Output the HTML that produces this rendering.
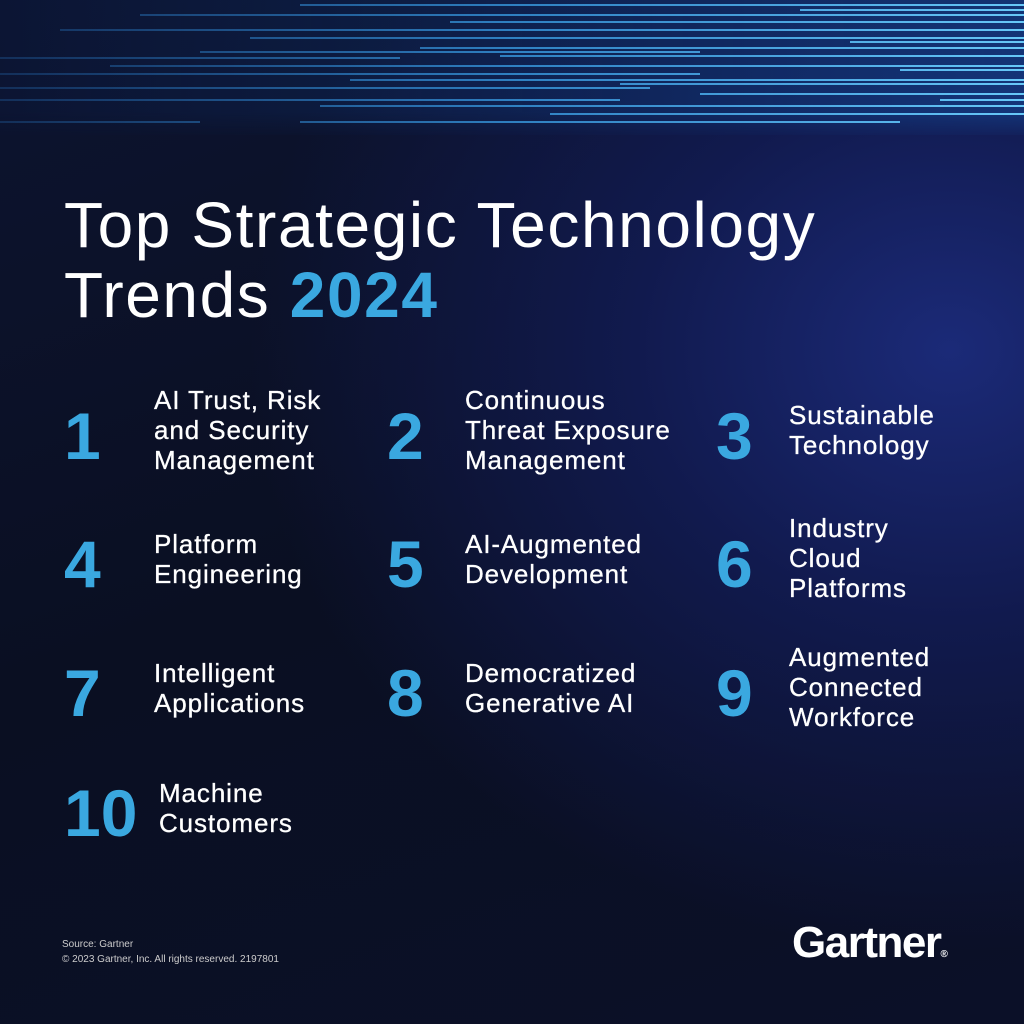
<!DOCTYPE html>
<html><head><meta charset="utf-8"><style>
*{margin:0;padding:0}
body{width:1024px;height:1024px;overflow:hidden;font-family:"Liberation Sans",sans-serif;color:#fff;
background:radial-gradient(ellipse 700px 600px at 950px 350px,#1b2a78 0%,#111a4e 45%,rgba(10,14,34,0) 100%),linear-gradient(160deg,#0d1430 0%,#0a0f22 50%,#0b1028 100%);position:relative}
.t{position:absolute;left:64px;top:190px;font-size:64px;line-height:70px;letter-spacing:1.6px}
.t b{color:#3aa8e0}
.n{position:absolute;font-weight:bold;font-size:66px;color:#3aa8e0;line-height:1}
.i{position:absolute;font-size:26px;line-height:30px;letter-spacing:0.9px;-webkit-text-stroke:0.3px #fff}
.s{position:absolute;left:62px;top:937px;font-size:10px;line-height:15px;color:#ccc}
.g{position:absolute;left:792px;top:918px;font-size:44px;font-weight:bold;letter-spacing:-1.5px}
</style></head><body>
<svg width="1024" height="140" style="position:absolute;left:0;top:0">
<defs><linearGradient id="f" gradientUnits="userSpaceOnUse" x1="0" y1="0" x2="1024" y2="0"><stop offset="0" stop-color="#2a7fd0" stop-opacity="0.25"/><stop offset="0.5" stop-color="#3aa0e8" stop-opacity="0.75"/><stop offset="1" stop-color="#6cd0ff" stop-opacity="0.95"/></linearGradient>
<linearGradient id="bg" x1="0" x2="1" y1="0" y2="0"><stop offset="0" stop-color="#0a1a40" stop-opacity="0.3"/><stop offset="1" stop-color="#15408a" stop-opacity="0.7"/></linearGradient>
<linearGradient id="fade" x1="0" x2="0" y1="0" y2="1"><stop offset="0" stop-color="#fff"/><stop offset="0.8" stop-color="#fff"/><stop offset="1" stop-color="#000"/></linearGradient>
<mask id="m"><rect width="1024" height="140" fill="url(#fade)"/></mask></defs>
<rect x="0" y="0" width="1024" height="135" fill="url(#bg)" mask="url(#m)"/>
<g stroke="url(#f)" stroke-width="2">
<line x1="300" y1="5" x2="1024" y2="5"/><line x1="140" y1="15" x2="1024" y2="15"/><line x1="450" y1="22" x2="1024" y2="22"/>
<line x1="60" y1="30" x2="1024" y2="30"/><line x1="250" y1="38" x2="1024" y2="38"/><line x1="420" y1="48" x2="1024" y2="48"/>
<line x1="500" y1="56" x2="1024" y2="56"/><line x1="110" y1="66" x2="1024" y2="66"/><line x1="0" y1="74" x2="700" y2="74"/>
<line x1="350" y1="80" x2="1024" y2="80"/><line x1="0" y1="88" x2="650" y2="88"/><line x1="700" y1="94" x2="1024" y2="94"/>
<line x1="0" y1="100" x2="620" y2="100"/><line x1="320" y1="106" x2="1024" y2="106"/><line x1="550" y1="114" x2="1024" y2="114"/>
<line x1="300" y1="122" x2="900" y2="122"/><line x1="0" y1="58" x2="400" y2="58"/><line x1="800" y1="10" x2="1024" y2="10"/>
<line x1="850" y1="42" x2="1024" y2="42"/><line x1="900" y1="70" x2="1024" y2="70"/><line x1="0" y1="122" x2="200" y2="122"/>
<line x1="620" y1="84" x2="1024" y2="84"/><line x1="200" y1="52" x2="700" y2="52"/><line x1="940" y1="100" x2="1024" y2="100"/>
</g></svg>
<div class="t">Top Strategic Technology<br>Trends <b>2024</b></div>
<div class="n" style="left:64px;top:403px">1</div>
<div class="i" style="left:154px;top:385px">AI Trust, Risk<br>and Security<br>Management</div>
<div class="n" style="left:387px;top:403px">2</div>
<div class="i" style="left:465px;top:385px">Continuous<br>Threat Exposure<br>Management</div>
<div class="n" style="left:716px;top:403px">3</div>
<div class="i" style="left:789px;top:400px">Sustainable<br>Technology</div>
<div class="n" style="left:64px;top:531px">4</div>
<div class="i" style="left:154px;top:529px">Platform<br>Engineering</div>
<div class="n" style="left:387px;top:531px">5</div>
<div class="i" style="left:465px;top:529px">AI-Augmented<br>Development</div>
<div class="n" style="left:716px;top:531px">6</div>
<div class="i" style="left:789px;top:513px">Industry<br>Cloud<br>Platforms</div>
<div class="n" style="left:64px;top:660px">7</div>
<div class="i" style="left:154px;top:658px">Intelligent<br>Applications</div>
<div class="n" style="left:387px;top:660px">8</div>
<div class="i" style="left:465px;top:658px">Democratized<br>Generative AI</div>
<div class="n" style="left:716px;top:660px">9</div>
<div class="i" style="left:789px;top:642px">Augmented<br>Connected<br>Workforce</div>
<div class="n" style="left:64px;top:780px">10</div>
<div class="i" style="left:159px;top:778px">Machine<br>Customers</div>
<div class="s">Source: Gartner<br>© 2023 Gartner, Inc. All rights reserved. 2197801</div>
<div class="g">Gartner<span style="font-size:10px">®</span></div>
</body></html>
